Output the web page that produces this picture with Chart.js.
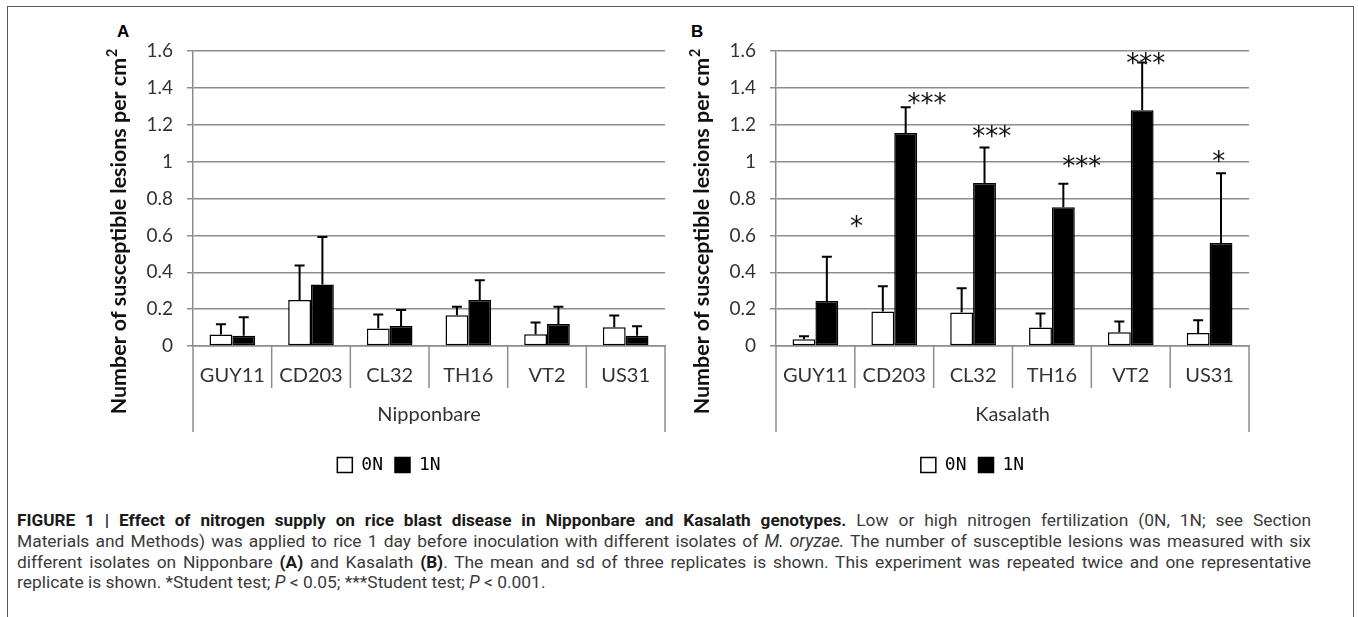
<!DOCTYPE html>
<html>
<head>
<meta charset="utf-8">
<script src="https://cdn.jsdelivr.net/npm/chart.js@4.4.1/dist/chart.umd.min.js"></script>
<style>
    html, body { margin: 0; padding: 0; background: #fff; width: 1358px; height: 617px; overflow: hidden; }
    #frame { position: absolute; left: 7px; top: 6px; width: 1345px; height: 660px; border: 1.5px solid #5a5a5a; }
    .panel { position: absolute; top: 20px; }
    #wrapA { left: 100px; }
    #wrapB { left: 683px; }
    .tag { position: absolute; top: 22px; font: bold 17px "Liberation Sans", Arial, sans-serif; color: #000; }
    #caption { position: absolute; left: 17px; top: 510px; width: 1294px; font: 17.4px Roboto, "Liberation Sans", sans-serif;
               line-height: 20.8px; color: #3a3a3a; }
    #caption .ln { white-space: nowrap; text-align: justify; text-align-last: justify; }
    #caption .ln.last { text-align: left; text-align-last: left; }
    #caption b { color: #1a1a1a; font-size: 17.2px; }
</style>
</head>
<body>
<div id="frame"></div>
<div class="tag" style="left:117px;">A</div>
<div class="tag" style="left:691px;">B</div>
<div class="panel" id="wrapA"><canvas id="chartA" width="575" height="470"></canvas></div>
<div class="panel" id="wrapB"><canvas id="chartB" width="576" height="470"></canvas></div>
<div id="caption">
    <div class="ln"><b>FIGURE 1 | Effect of nitrogen supply on rice blast disease in Nipponbare and Kasalath genotypes.</b> Low or high nitrogen fertilization (0N, 1N; see Section</div>
    <div class="ln">Materials and Methods) was applied to rice 1 day before inoculation with different isolates of <i>M. oryzae.</i> The number of susceptible lesions was measured with six</div>
    <div class="ln">different isolates on Nipponbare <b>(A)</b> and Kasalath <b>(B)</b>. The mean and sd of three replicates is shown. This experiment was repeated twice and one representative</div>
    <div class="ln last">replicate is shown. *Student test; <i>P</i> &lt; 0.05; ***Student test; <i>P</i> &lt; 0.001.</div>
</div>
<script>
// --------------------------------------------------------------------------
// DATA
// --------------------------------------------------------------------------
const ISOLATES = ['GUY11', 'CD203', 'CL32', 'TH16', 'VT2', 'US31'];
const SERIES_NAMES = ['0N', '1N'];
const Y_MIN = 0, Y_MAX = 1.6, Y_STEP = 0.2;
const Y_TITLE = 'Number of susceptible lesions per cm';
const Y_TITLE_SUP = '2';

// Nipponbare (A)
const nippon0N   = [0.062, 0.249, 0.095, 0.167, 0.064, 0.102];
const nippon0Nsd = [0.056, 0.187, 0.076, 0.046, 0.063, 0.063];
const nippon1N   = [0.056, 0.333, 0.109, 0.249, 0.120, 0.056];
const nippon1Nsd = [0.100, 0.258, 0.086, 0.107, 0.093, 0.051];

// Kasalath (B)
const kasa0N   = [0.036, 0.187, 0.182, 0.100, 0.075, 0.071];
const kasa0Nsd = [0.017, 0.137, 0.131, 0.076, 0.058, 0.069];
const kasa1N   = [0.244, 1.155, 0.884, 0.753, 1.279, 0.558];
const kasa1Nsd = [0.240, 0.140, 0.193, 0.127, 0.258, 0.379];

// significance marks on Kasalath: text, height (data units), shift across the category
const kasaSigText  = ['*', '***', '***', '***', '***', '*'];
const kasaSigY     = [0.685, 1.351, 1.171, 1.009, 1.568, 1.036];
const kasaSigShift = [0.52, 0.415, 0.237, 0.38, 0.19, 0.115];

// --------------------------------------------------------------------------
// PLUGINS
// --------------------------------------------------------------------------
const GRID_GREY = '#8c8c8c';
const TEXT_GREY = '#333333';

const errorBarPlugin = {
    id: 'errorBars',
    afterDatasetsDraw(chart) {
        const ctx = chart.ctx;
        const yScale = chart.scales.y;
        ctx.save();
        ctx.strokeStyle = '#000';
        ctx.lineWidth = 2;
        chart.data.datasets.forEach((ds, di) => {
            const meta = chart.getDatasetMeta(di);
            meta.data.forEach((bar, i) => {
                const top = yScale.getPixelForValue(ds.data[i] + ds.sd[i]);
                ctx.beginPath();
                ctx.moveTo(bar.x, bar.y);
                ctx.lineTo(bar.x, top);
                ctx.moveTo(bar.x - 5, top);
                ctx.lineTo(bar.x + 5, top);
                ctx.stroke();
            });
        });
        ctx.restore();
    }
};

// category dividers under the axis and the longer outer lines of the group
const categoryFramePlugin = {
    id: 'categoryFrame',
    afterDraw(chart) {
        const { ctx, chartArea } = chart;
        const n = chart.data.labels.length;
        const w = (chartArea.right - chartArea.left) / n;
        const y0 = chartArea.bottom;
        ctx.save();
        ctx.strokeStyle = GRID_GREY;
        ctx.lineWidth = 1.5;
        for (let k = 0; k <= n; k++) {
            const x = chartArea.left + k * w;
            const len = (k === 0 || k === n) ? 86 : 42;
            ctx.beginPath();
            ctx.moveTo(x, y0);
            ctx.lineTo(x, y0 + len);
            ctx.stroke();
        }
        ctx.restore();
    }
};

// rotated y title with a real superscript, stretched over the same span as the original
const yTitlePlugin = {
    id: 'yTitle',
    afterDraw(chart) {
        const { ctx, chartArea } = chart;
        const span = 365;
        const supScale = 0.66;
        ctx.save();
        ctx.font = 'bold 17px Lato';
        const w0 = ctx.measureText(Y_TITLE).width;
        ctx.font = `bold ${17 * supScale}px Lato`;
        const s0 = ctx.measureText(Y_TITLE_SUP).width;
        const size = 17 * span / (w0 + s0);
        ctx.font = `bold ${size}px Lato`;
        const wMain = ctx.measureText(Y_TITLE).width;
        ctx.font = `bold ${size * supScale}px Lato`;
        const wSup = ctx.measureText(Y_TITLE_SUP).width;
        ctx.translate(chartArea.left - 74, chartArea.top + 181);
        ctx.rotate(-Math.PI / 2);
        ctx.fillStyle = '#111';
        ctx.textBaseline = 'middle';
        ctx.textAlign = 'left';
        const x0 = -(wMain + wSup) / 2;
        ctx.font = `bold ${size}px Lato`;
        ctx.fillText(Y_TITLE, x0, 0);
        ctx.font = `bold ${size * supScale}px Lato`;
        ctx.fillText(Y_TITLE_SUP, x0 + wMain + 1, -size * 0.3);
        ctx.restore();
    }
};

const sigPlugin = {
    id: 'sigMarks',
    afterDatasetsDraw(chart, args, opts) {
        if (!opts.text || !opts.text.length) return;
        const { ctx, chartArea } = chart;
        const xs = chart.scales.x, ys = chart.scales.y;
        const w = (chartArea.right - chartArea.left) / chart.data.labels.length;
        ctx.save();
        ctx.font = '26px "DejaVu Sans"';
        ctx.fillStyle = '#111';
        ctx.textAlign = 'center';
        ctx.textBaseline = 'alphabetic';
        opts.text.forEach((t, i) => {
            const x = xs.getPixelForValue(i) + opts.shift[i] * w;
            const y = ys.getPixelForValue(opts.y[i]) + 15;
            ctx.fillText(t, x, y);
        });
        ctx.restore();
    }
};

// --------------------------------------------------------------------------
// CHARTS
// --------------------------------------------------------------------------
function buildPanel(canvasId, groupName, v0, sd0, v1, sd1, sig) {
    return new Chart(document.getElementById(canvasId), {
        type: 'bar',
        data: {
            labels: ISOLATES,
            datasets: [
                { label: SERIES_NAMES[0], data: v0, sd: sd0, backgroundColor: '#fff', borderColor: '#000', borderWidth: 1.5, borderSkipped: false },
                { label: SERIES_NAMES[1], data: v1, sd: sd1, backgroundColor: '#000', borderColor: '#000', borderWidth: 1.5, borderSkipped: false },
            ]
        },
        plugins: [errorBarPlugin, categoryFramePlugin, yTitlePlugin, sigPlugin],
        options: {
            responsive: false,
            devicePixelRatio: 1,
            animation: false,
            layout: { padding: { top: 31, right: 10, bottom: 6, left: 13 } },
            datasets: { bar: { categoryPercentage: 0.58, barPercentage: 1.0 } },
            scales: {
                x: {
                    grid: { display: false, drawTicks: false },
                    border: { display: true, color: GRID_GREY, width: 1.5 },
                    ticks: { padding: 18, color: TEXT_GREY, font: { family: 'Lato', size: 20 } },
                    title: { display: true, text: groupName, color: TEXT_GREY, font: { family: 'Lato', size: 20 }, padding: { top: 0, bottom: 17 } },
                    afterFit(s) { s.height = 98; }
                },
                y: {
                    min: Y_MIN, max: Y_MAX,
                    ticks: {
                        stepSize: Y_STEP, padding: 14, color: TEXT_GREY, font: { family: 'Lato', size: 19 },
                        callback: v => String(Number(v.toFixed(1)))
                    },
                    grid: { color: GRID_GREY, lineWidth: 1.5, tickLength: 6 },
                    border: { color: GRID_GREY, width: 1.5 },
                    afterFit(s) { s.width = 80; }
                }
            },
            plugins: {
                tooltip: { enabled: false },
                legend: {
                    position: 'bottom',
                    labels: { boxWidth: 15, boxHeight: 15, padding: 12, color: '#000', font: { family: 'DejaVu Sans Mono', size: 18 } }
                },
                sigMarks: sig
            }
        }
    });
}

buildPanel('chartA', 'Nipponbare', nippon0N, nippon0Nsd, nippon1N, nippon1Nsd, { text: [], y: [], shift: [] });
buildPanel('chartB', 'Kasalath', kasa0N, kasa0Nsd, kasa1N, kasa1Nsd, { text: kasaSigText, y: kasaSigY, shift: kasaSigShift });
</script>
</body>
</html>
